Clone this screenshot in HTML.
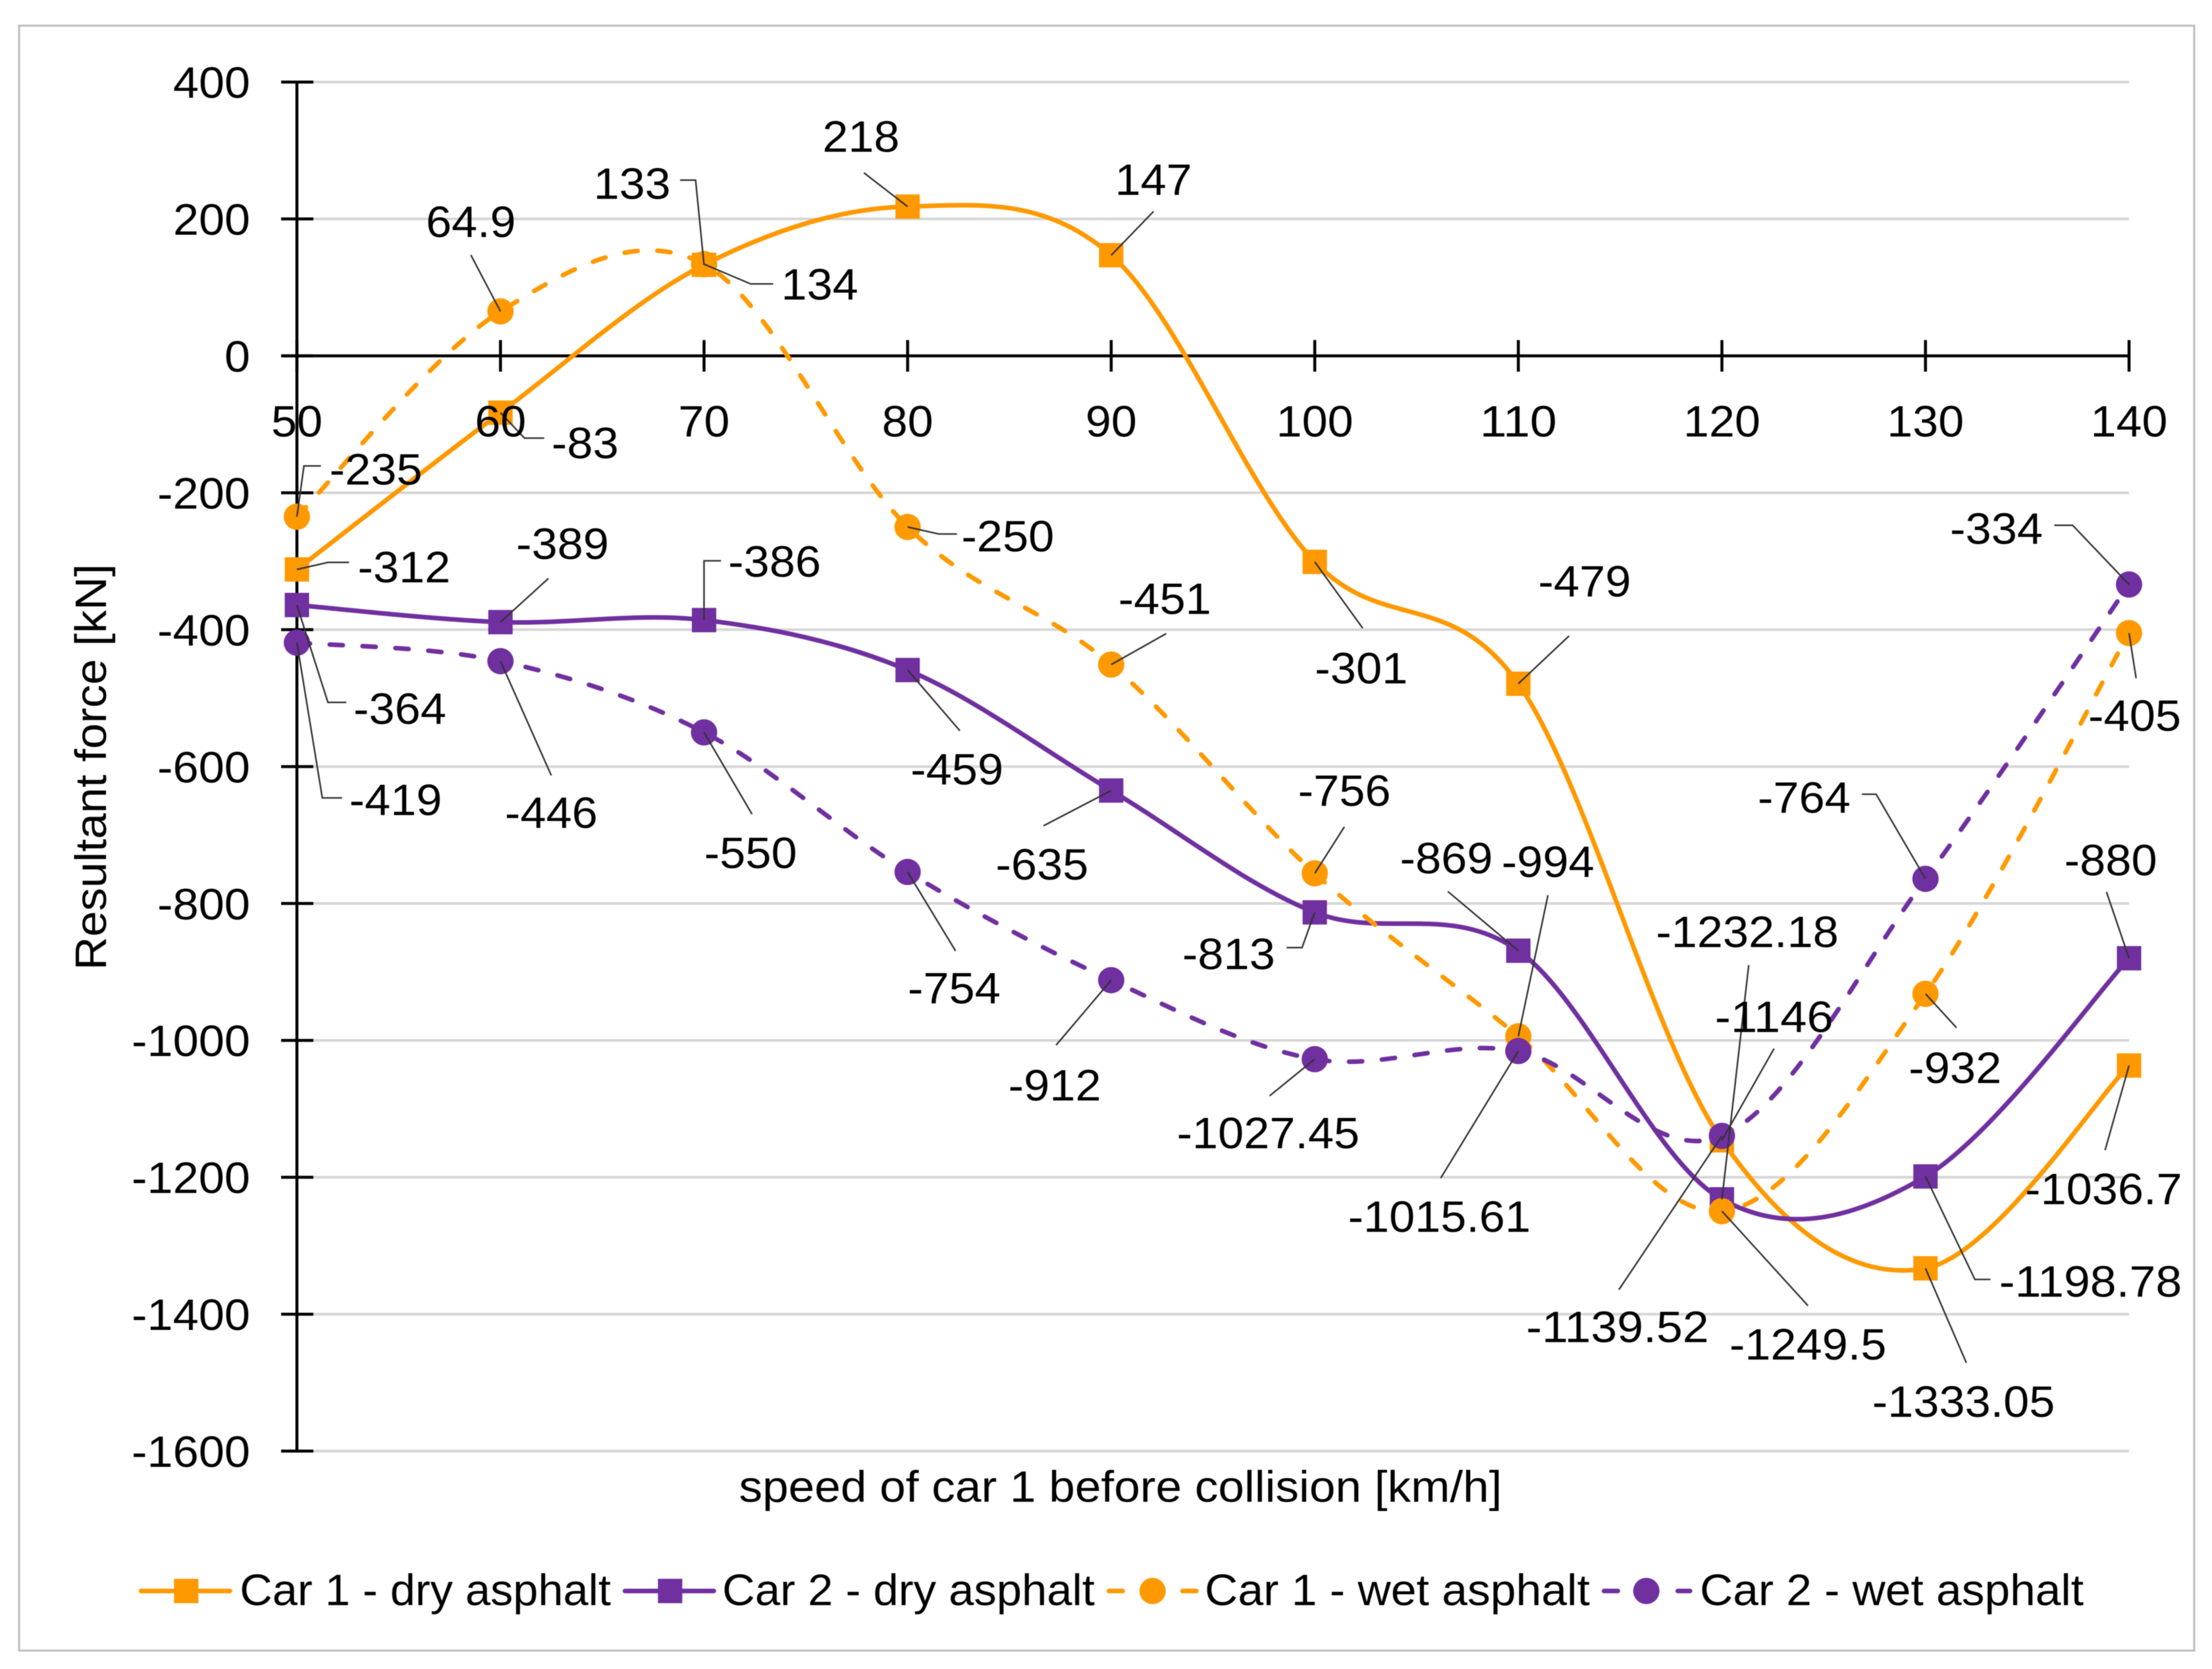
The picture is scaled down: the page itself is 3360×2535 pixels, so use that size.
<!DOCTYPE html>
<html lang="en">
<head>
<meta charset="utf-8">
<title>Resultant force vs speed of car 1</title>
<style>
html,body{margin:0;padding:0;background:#fff;}
svg{display:block;filter:blur(0.6px);}
text{font-family:"Liberation Sans",Arial,sans-serif;font-size:67px;fill:#000;}
</style>
</head>
<body>
<svg id="chart" xmlns="http://www.w3.org/2000/svg" width="3360" height="2535" viewBox="0 0 3360 2535">
  <rect x="0" y="0" width="3360" height="2535" fill="#fff"/>
  <rect x="29" y="39" width="3304" height="2468" fill="#fff" stroke="#bdbdbd" stroke-width="3"/>
  <g id="grid"></g>
  <g id="axes"></g>
  <g id="series"></g>
  <g id="leaders"></g>
  <g id="ticks"></g>
  <g id="labels"></g>
  <text transform="translate(161 1165) rotate(-90)" text-anchor="middle" textLength="617" lengthAdjust="spacingAndGlyphs">Resultant force [kN]</text>
  <text x="1702" y="2281" text-anchor="middle" textLength="1159" lengthAdjust="spacingAndGlyphs">speed of car 1 before collision [km/h]</text>
  <g id="legend"></g>
</svg>
<script>
const categories = [50, 60, 70, 80, 90, 100, 110, 120, 130, 140];
const yTicks = [400, 200, 0, -200, -400, -600, -800, -1000, -1200, -1400, -1600];
const car1Dry = [-312, -83, 133, 218, 147, -301, -479, -1146, -1333.05, -1036.7];
const car2Dry = [-364, -389, -386, -459, -635, -813, -869, -1232.18, -1198.78, -880];
const car1Wet = [-235, 64.9, 134, -250, -451, -756, -994, -1249.5, -932, -405];
const car2Wet = [-419, -446, -550, -754, -912, -1027.45, -1015.61, -1139.52, -764, -334];

const ORANGE = '#FF9900';
const PURPLE = '#7030A0';
const U = 2.1429;

const X = v => 451 + (v - 50) * (3234 - 451) / 90;
const Y = v => 540.5 - v * (2204 - 124.6) / 2000;

/* label placement relative to each marker: [labelDx, labelDy, leader elbows] */
const layoutCar1Dry = [
  [76,-2,[[22,-5],[37,-5]]],[60,21,[[17,18],[31,18]]],[-51,-58,[[-6,-60],[-17,-60]]],
  [-33,-50,[[-31,-24]]],[30,-54,[[30,-31]]],[33,75,[[34,47]]],[47,-73,[[36,-34]]],
  [37,-88,[[37,-65]]],[27,94,[[29,67]]],[-18,87,[[-17,60]]]
];
const layoutCar2Dry = [
  [73,73,[[22,69],[35,69]]],[44,-56,[[34,-31]]],[50,-42,[[0,-42],[12,-42]]],
  [35,70,[[37,43]]],[-49,52,[[-48,25]]],[-61,29,[[-9,25],[-20,25]]],[-51,-66,[[-50,-42]]],
  [18,-190,[[19,-166]]],[117,74,[[35,73],[46,73]]],[-13,-70,[[-16,-47]]]
];
const layoutCar1Wet = [
  [56,-34,[[5,-36],[17,-36]]],[-21,-64,[[-21,-40]]],[82,14,[[33,14],[49,14]]],
  [71,6,[[22,5],[35,5]]],[38,-47,[[39,-22]]],[21,-59,[[21,-33]]],[21,-124,[[21,-100]]],
  [61,94,[[61,67]]],[21,52,[[22,24]]],[4,58,[[5,32]]]
];
const layoutCar2Wet = [
  [70,111,[[18,110],[32,110]]],[36,107,[[36,81]]],[33,85,[[34,58]]],[33,82,[[34,56]]],
  [-40,74,[[-39,46]]],[-33,52,[[-32,26]]],[-56,117,[[-55,90]]],[-74,135,[[-73,109]]],
  [-86,-58,[[-35,-60],[-45,-60]]],[-94,-40,[[-40,-42],[-53,-42]]]
];

const seriesList = [
  {name:'Car 1 - dry asphalt', key:'car-1-dry', values:car1Dry, layout:layoutCar1Dry, color:ORANGE, dashed:false, marker:'square', lx:[100,163], tx:[170,433], mx:132},
  {name:'Car 2 - dry asphalt', key:'car-2-dry', values:car2Dry, layout:layoutCar2Dry, color:PURPLE, dashed:false, marker:'square', lx:[443,506], tx:[512,776], mx:475},
  {name:'Car 1 - wet asphalt', key:'car-1-wet', values:car1Wet, layout:layoutCar1Wet, color:ORANGE, dashed:true, marker:'circle', lx:[786,848], tx:[854,1127], mx:817},
  {name:'Car 2 - wet asphalt', key:'car-2-wet', values:car2Wet, layout:layoutCar2Wet, color:PURPLE, dashed:true, marker:'circle', lx:[1137,1198], tx:[1205,1477], mx:1167}
];

const NS = 'http://www.w3.org/2000/svg';
function make(tag, parent, attrs) {
  const el = document.createElementNS(NS, tag);
  for (const k in attrs) el.setAttribute(k, attrs[k]);
  parent.appendChild(el);
  return el;
}
/* numeric strings are spaced to the reference's wider digit advances */
function numWidth(str) {
  let w = 0;
  for (const ch of str) w += ch === '-' ? 24 : ch === '.' ? 19.5 : 39;
  return w;
}
const gridG = document.getElementById('grid');
const axesG = document.getElementById('axes');
const seriesG = document.getElementById('series');
const leadersG = document.getElementById('leaders');
const ticksG = document.getElementById('ticks');
const labelsG = document.getElementById('labels');
const legendG = document.getElementById('legend');

function smoothPath(pts) {
  let d = 'M' + pts[0][0].toFixed(1) + ' ' + pts[0][1].toFixed(1);
  for (let i = 0; i < pts.length - 1; i++) {
    const p0 = pts[Math.max(i - 1, 0)], p1 = pts[i], p2 = pts[i + 1], p3 = pts[Math.min(i + 2, pts.length - 1)];
    const c1x = p1[0] + (p2[0] - p0[0]) / 6, c1y = p1[1] + (p2[1] - p0[1]) / 6;
    const c2x = p2[0] - (p3[0] - p1[0]) / 6, c2y = p2[1] - (p3[1] - p1[1]) / 6;
    d += 'C' + c1x.toFixed(1) + ' ' + c1y.toFixed(1) + ' ' + c2x.toFixed(1) + ' ' + c2y.toFixed(1) + ' ' + p2[0].toFixed(1) + ' ' + p2[1].toFixed(1);
  }
  return d;
}

function drawMarker(parent, kind, cx, cy, color) {
  if (kind === 'square') {
    return make('rect', parent, {x: cx - 18.5, y: cy - 18.5, width: 37, height: 37, fill: color});
  }
  return make('circle', parent, {cx: cx, cy: cy, r: 20, fill: color});
}

/* gridlines, y axis ticks and labels */
yTicks.forEach(t => {
  if (t !== 0) {
    const g = make('line', gridG, {x1: X(50), x2: X(140), y1: Y(t), y2: Y(t), stroke: '#d6d6d6', 'stroke-width': 4});
    
    
  }
  const tk = make('line', axesG, {x1: 427, x2: 476, y1: Y(t), y2: Y(t), stroke: '#000', 'stroke-width': 4.5});
  
  
  const lb = make('text', ticksG, {x: 380, y: Y(t) + 24, 'text-anchor': 'end', textLength: numWidth(String(t)), lengthAdjust: 'spacingAndGlyphs'});
  lb.textContent = String(t);
  
  
});

/* axes */
const yAxis = make('line', axesG, {x1: X(50), x2: X(50), y1: Y(400), y2: Y(-1600), stroke: '#000', 'stroke-width': 4.5});


const xAxis = make('line', axesG, {x1: 427, x2: X(140), y1: Y(0), y2: Y(0), stroke: '#000', 'stroke-width': 4.5});



categories.forEach(c => {
  const tk = make('line', axesG, {x1: X(c), x2: X(c), y1: Y(0) - 24, y2: Y(0) + 24, stroke: '#000', 'stroke-width': 4.5});
  
  
  const lb = make('text', ticksG, {x: X(c), y: 663, 'text-anchor': 'middle', textLength: numWidth(String(c)), lengthAdjust: 'spacingAndGlyphs'});
  lb.textContent = String(c);
  
  
});

/* series */
seriesList.forEach(s => {
  const pts = categories.map((c, i) => [X(c), Y(s.values[i])]);
  const line = make('path', seriesG, {d: smoothPath(pts), fill: 'none', stroke: s.color, 'stroke-width': 7, 'stroke-linecap': 'round', 'stroke-dasharray': s.dashed ? '20 30' : 'none'});
  
  
  pts.forEach((p, i) => {
    const m = drawMarker(seriesG, s.marker, p[0], p[1], s.color);
    
    

    const lay = s.layout[i];
    const poly = [[p[0], p[1]]].concat(lay[2].map(o => [p[0] + o[0] * U, p[1] + o[1] * U]));
    const ld = make('polyline', leadersG, {points: poly.map(q => q[0].toFixed(1) + ',' + q[1].toFixed(1)).join(' '), fill: 'none', stroke: '#333', 'stroke-width': 2.4});
    
    

    const str = String(s.values[i]);
    const tx = make('text', labelsG, {x: p[0] + lay[0] * U, y: p[1] + lay[1] * U + 24, 'text-anchor': 'middle', textLength: numWidth(str), lengthAdjust: 'spacingAndGlyphs'});
    tx.textContent = str;
    
    
  });
});

/* legend */
seriesList.forEach(s => {
  const ly = 2416.5;
  const e = make('g', legendG, {});
  
  
  const l = make('line', e, {x1: s.lx[0] * U, x2: s.lx[1] * U, y1: ly, y2: ly, stroke: s.color, 'stroke-width': 7, 'stroke-linecap': 'round', 'stroke-dasharray': s.dashed ? '21 35' : 'none'});
  
  
  const m = drawMarker(e, s.marker, s.mx * U, ly, s.color);
  
  
  const t = make('text', e, {x: s.tx[0] * U, y: 2438, textLength: (s.tx[1] - s.tx[0]) * U, lengthAdjust: 'spacingAndGlyphs'});
  t.textContent = s.name;
  
  
});
</script>
</body>
</html>
